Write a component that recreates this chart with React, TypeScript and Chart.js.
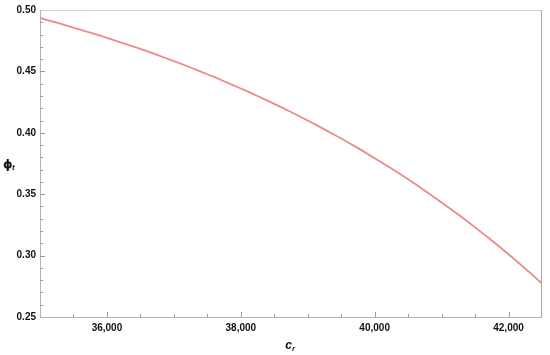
import React, { useEffect, useRef } from "react";
import { Chart, registerables } from "chart.js";

Chart.register(...registerables);

// c_r values (x)
const crValues: number[] = [
  35000, 35250, 35500, 35750, 36000, 36250, 36500, 36750, 37000, 37250, 37500,
  37750, 38000, 38250, 38500, 38750, 39000, 39250, 39500, 39750, 40000, 40250,
  40500, 40750, 41000, 41250, 41500, 41750, 42000, 42250, 42500,
];
// phi_t values (y)
const phiValues: number[] = [
  0.4935, 0.4897, 0.4857, 0.4816, 0.4773, 0.4729, 0.4683, 0.4634, 0.4584,
  0.4532, 0.4477, 0.442, 0.4361, 0.43, 0.4236, 0.4169, 0.41, 0.4028, 0.3953,
  0.3875, 0.3793, 0.3709, 0.3621, 0.3529, 0.3433, 0.3334, 0.323, 0.3123,
  0.3011, 0.2894, 0.2773,
];

const xMin = 35000;
const xMax = 42500;
const xMinorStep = 500;
const xMajorStep = 2000;
const yMin = 0.25;
const yMax = 0.5;
const yMinorStep = 0.01;
const yMajorStep = 0.05;

const isMultiple = (v: number, step: number) =>
  Math.abs(v / step - Math.round(v / step)) < 1e-6;

const framePlugin = {
  id: "frame",
  afterDraw(chart: any) {
    const { ctx, chartArea } = chart;
    const { left, right, top, bottom } = chartArea;
    const xs = chart.scales.x;
    const ys = chart.scales.y;
    ctx.save();
    // frame
    ctx.lineWidth = 1;
    ctx.strokeStyle = "#d0d0d0";
    ctx.beginPath();
    ctx.moveTo(left, top + 0.5);
    ctx.lineTo(right, top + 0.5);
    ctx.stroke();
    ctx.strokeStyle = "#a8a8a8";
    ctx.beginPath();
    ctx.moveTo(right - 0.5, top);
    ctx.lineTo(right - 0.5, bottom);
    ctx.stroke();
    ctx.strokeStyle = "#b4b4b4";
    ctx.beginPath();
    ctx.moveTo(left + 0.5, top);
    ctx.lineTo(left + 0.5, bottom);
    ctx.moveTo(left, bottom + 0.5);
    ctx.lineTo(right, bottom + 0.5);
    ctx.stroke();
    // ticks
    ctx.strokeStyle = "#9a9a9a";
    ctx.beginPath();
    for (const t of xs.ticks) {
      const px = Math.round(xs.getPixelForValue(t.value)) + 0.5;
      if (px <= left + 1 || px >= right - 1) continue;
      const len = isMultiple(t.value, xMajorStep) ? 5 : 3;
      ctx.moveTo(px, bottom);
      ctx.lineTo(px, bottom - len);
    }
    for (const t of ys.ticks) {
      const py = Math.round(ys.getPixelForValue(t.value)) + 0.5;
      if (py <= top + 1 || py >= bottom - 1) continue;
      const len = isMultiple(t.value, yMajorStep) ? 5 : 3;
      ctx.moveTo(left, py);
      ctx.lineTo(left + len, py);
    }
    ctx.stroke();
    // axis titles
    ctx.fillStyle = "#111";
    ctx.textBaseline = "alphabetic";
    const cx = (left + right) / 2;
    ctx.font = "italic bold 12px 'Liberation Sans', Arial, sans-serif";
    ctx.textAlign = "right";
    ctx.fillText("c", cx + 1, 349);
    ctx.font = "italic bold 8px 'Liberation Sans', Arial, sans-serif";
    ctx.textAlign = "left";
    ctx.fillText("r", cx + 1, 351);
    const cy = (top + bottom) / 2;
    ctx.font = "bold 12px 'DejaVu Sans', 'Liberation Sans', sans-serif";
    ctx.textAlign = "left";
    ctx.fillText("ϕ", 3, cy + 4);
    ctx.font = "italic bold 8px 'Liberation Sans', Arial, sans-serif";
    ctx.fillText("t", 12, cy + 6);
    ctx.restore();
  },
};

export default function App() {
  const canvasRef = useRef<HTMLCanvasElement | null>(null);

  useEffect(() => {
    if (!canvasRef.current) return;
    const points = crValues.map((x, i) => ({ x, y: phiValues[i] }));
    const tickFont = {
      family: "'Liberation Sans', Arial, sans-serif",
      size: 10,
      weight: "bold" as const,
    };
    const chart = new Chart(canvasRef.current, {
      type: "line",
      data: {
        datasets: [
          {
            data: points,
            borderColor: "#ec8a8a",
            borderWidth: 1.8,
            pointRadius: 0,
            tension: 0.3,
            fill: false,
          },
        ],
      },
      options: {
        animation: false,
        responsive: false,
        maintainAspectRatio: false,
        layout: { padding: { left: 0, right: 8, top: 7, bottom: 0 } },
        plugins: {
          legend: { display: false },
          tooltip: { enabled: false },
        },
        scales: {
          x: {
            type: "linear",
            min: xMin,
            max: xMax,
            border: { display: false },
            grid: { display: false, drawTicks: false },
            ticks: {
              stepSize: xMinorStep,
              autoSkip: false,
              maxRotation: 0,
              padding: 5,
              color: "#111",
              font: tickFont,
              callback: (v: any) =>
                isMultiple(Number(v), xMajorStep) && Number(v) !== xMin
                  ? Number(v).toLocaleString("en-US")
                  : "",
            },
            afterFit: (scale: any) => {
              scale.height = 38;
            },
          },
          y: {
            type: "linear",
            min: yMin,
            max: yMax,
            border: { display: false },
            grid: { display: false, drawTicks: false },
            ticks: {
              stepSize: yMinorStep,
              autoSkip: false,
              padding: 4,
              color: "#111",
              font: tickFont,
              callback: (v: any) =>
                isMultiple(Number(v), yMajorStep) ? Number(v).toFixed(2) : "",
            },
            afterFit: (scale: any) => {
              scale.width = 40;
            },
          },
        },
      },
      plugins: [framePlugin],
    });
    return () => chart.destroy();
  }, []);

  return (
    <div style={{ position: "fixed", left: 0, top: 0, width: 550, height: 355, background: "#fff" }}>
      <canvas ref={canvasRef} width={550} height={355} />
    </div>
  );
}
